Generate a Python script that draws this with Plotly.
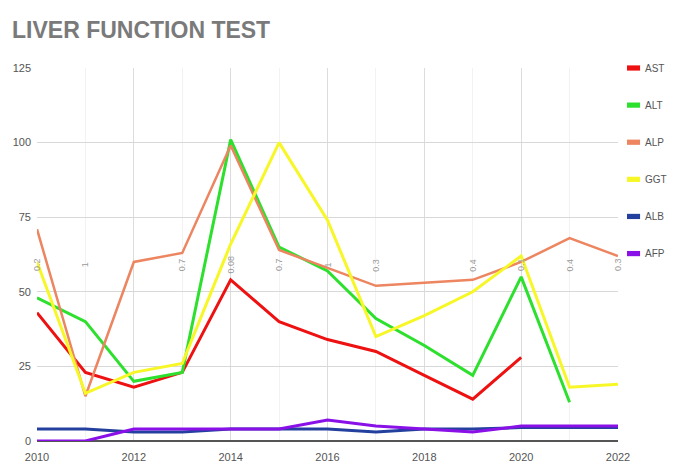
import plotly.graph_objects as go

years = list(range(2010, 2023))
AST = [43, 23, 18, 23, 54, 40, 34, 30, 22, 14, 28, None, None]
ALT = [48, 40, 20, 23, 101, 65, 57, 41, 32, 22, 55, 13, None]
ALP = [71, 15, 60, 63, 99, 64, 58, 52, 53, 54, 60, 68, 62]
GGT = [60, 16, 23, 26, 66, 100, 74, 35, 42, 50, 62, 18, 19]
ALB = [4, 4, 3, 3, 4, 4, 4, 3, 4, 4, 4.5, 4.5, 4.5]
AFP = [0, 0, 4, 4, 4, 4, 7, 5, 4, 3, 5, 5, 5]

label_years = [2010, 2011, 2013, 2014, 2015, 2016, 2017, 2019, 2020, 2021, 2022]
label_texts = ["0.2", "1", "0.7", "0.08", "0.7", "1", "0.3", "0.4", "0.1", "0.4", "0.3"]
label_level = 59

series = [
    ("AST", AST, "#EE1111", 3),
    ("ALT", ALT, "#2EE02E", 3),
    ("ALP", ALP, "#EC8560", 2.5),
    ("GGT", GGT, "#F7F728", 3),
    ("ALB", ALB, "#23409E", 3),
    ("AFP", AFP, "#8A10E8", 3),
]

fig = go.Figure()
for name, vals, col, w in series:
    fig.add_trace(go.Scatter(
        x=years, y=vals, name=name, mode="lines",
        line=dict(color=col, width=w), showlegend=False,
    ))

for yr, t in zip(label_years, label_texts):
    fig.add_annotation(x=yr, y=label_level, text=t, textangle=-90,
                       showarrow=False, font=dict(size=9, color="#9a9a9a"))

# compact legend on the right (built from the series list)
leg_top, leg_step, sym_h = 1.0, 0.0995, 0.014
for i, (name, vals, col, w) in enumerate(series):
    yc = leg_top - i * leg_step
    fig.add_shape(type="rect", xref="paper", yref="paper",
                  x0=1.0155, x1=1.038, y0=yc - sym_h / 2, y1=yc + sym_h / 2,
                  fillcolor=col, line=dict(width=0))
    fig.add_annotation(xref="paper", yref="paper", x=1.043, y=yc, text=name,
                       xanchor="left", yanchor="middle", showarrow=False,
                       font=dict(size=10, color="#555"))

fig.update_layout(
    width=675, height=469,
    paper_bgcolor="white", plot_bgcolor="white",
    margin=dict(l=29, r=65, t=60, b=36, autoexpand=False),
    title=dict(text="<b>LIVER FUNCTION TEST</b>", x=0.006, xanchor="left",
               y=0.953, yanchor="middle",
               font=dict(family="Liberation Sans Narrow, Arial Narrow, sans-serif",
                         size=23, color="#7a7a7a")),
    font=dict(family="Liberation Sans Narrow, Arial, sans-serif", color="#555"),
    showlegend=False,
)
fig.update_xaxes(range=[2010, 2022], tickmode="linear", tick0=2010, dtick=2,
                 showgrid=True, gridcolor="#dcdcdc", gridwidth=1,
                 minor=dict(showgrid=True, gridcolor="#f2f2f2", dtick=1),
                 tickfont=dict(size=11, color="#555"), zeroline=False,
                 showline=False, ticks="", ticklabelstandoff=8)
fig.update_yaxes(range=[0, 125], tickmode="linear", tick0=0, dtick=25,
                 showgrid=True, gridcolor="#d8d8d8", gridwidth=1,
                 zeroline=True, zerolinecolor="#555", zerolinewidth=1.5,
                 tickfont=dict(size=11, color="#555"), ticks="",
                 ticklabelstandoff=5)

fig.write_html("out.html")
